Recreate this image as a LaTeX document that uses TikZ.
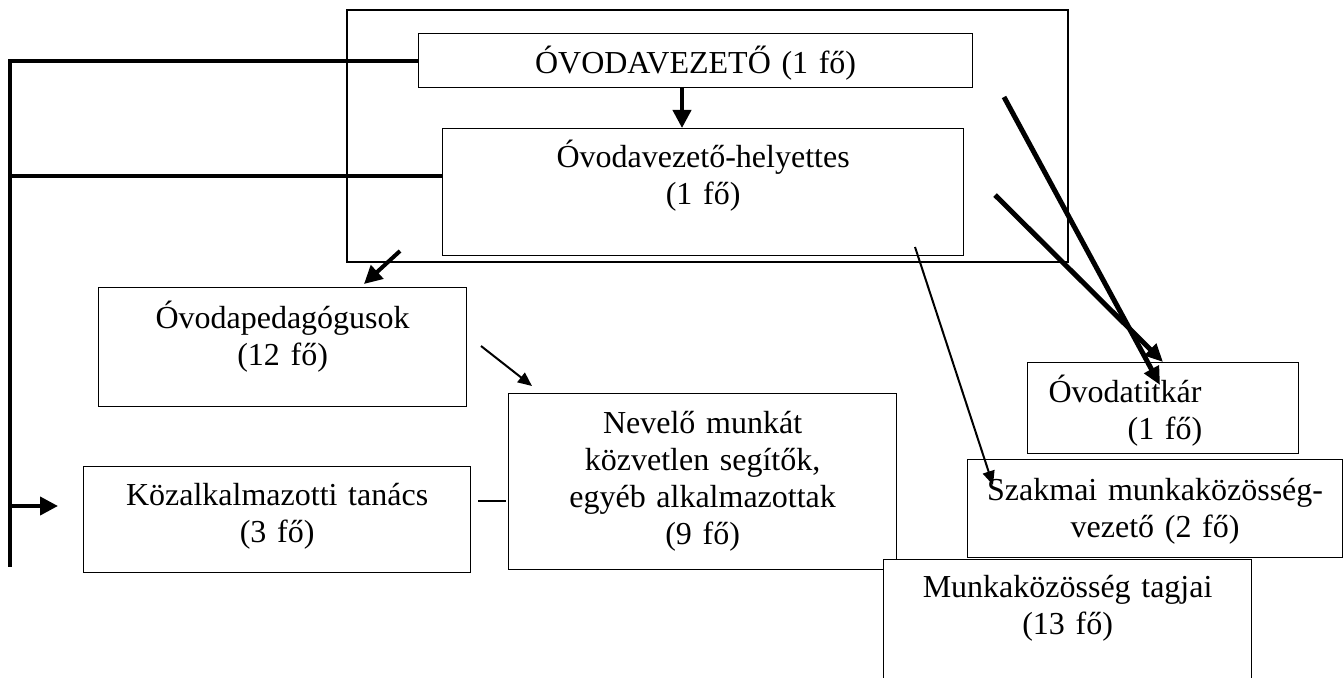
\documentclass[tikz,border=0pt]{standalone}
\usepackage{fontspec}
\setmainfont{Liberation Serif}
\usetikzlibrary{calc,arrows.meta}
\tikzset{
myBox/.style={
	draw, rectangle, fill=white, line width=0.6pt,
	inner sep=0pt, anchor=north west, align=center,
	font=\fontsize{16}{18.5}\selectfont
}
, myFrame/.style={
	draw, rectangle, line width=1pt,
	inner sep=0pt, anchor=north west
}
% link
, myBus/.style={line width=2pt}
, myLine/.style={line width=0.8pt}
, myThick/.style={-{Triangle[length=9pt,width=9pt]},line width=2pt}
, myThin/.style={-{Triangle[length=7pt,width=6pt]},line width=1pt}
, myTitkar/.style={-{Triangle[length=9pt,width=8pt]},line width=2.5pt}
}

\begin{document}
\begin{tikzpicture}[x=0.5pt,y=-0.5pt]
	\path[use as bounding box,clip] (0,0) rectangle (1343,678);
	% nodes
	\node[myFrame,minimum width=360.5pt,minimum height=126pt] (Vezetes) at (346,9) {};
	\node[myBox,text width=277pt,text height=20pt,text depth=7pt] (Vezeto) at (418,33) {ÓVODAVEZETŐ (1 fő)};
	\node[myBox,text width=260.5pt,text height=19.5pt,text depth=44pt] (Helyettes) at (442,128) {Óvodavezető-helyettes\\(1 fő)};
	\node[myBox,text width=184pt,text height=20.5pt,text depth=39pt] (Pedagogus) at (98,287) {Óvodapedagógusok\\(12 fő)};
	\node[myBox,text width=194pt,text height=20pt,text depth=68pt] (Nevelo) at (508,393) {Nevelő munkát\\közvetlen segítők,\\egyéb alkalmazottak\\(9 fő)};
	\node[myBox,text width=193.5pt,text height=19.5pt,text depth=33.5pt] (Kozalk) at (83,466) {Közalkalmazotti tanács\\(3 fő)};
	\node[myBox,align=left,text width=135.5pt,text height=20pt,text depth=25.5pt] (Titkar) at (1027,362) {\hspace*{10.5pt}Óvodatitkár\\\hspace*{50pt}(1 fő)};
	\node[myBox,text width=187.5pt,text height=20.5pt,text depth=28.5pt] (Szakmai) at (967,459) {Szakmai munkaközösség-\\vezető (2 fő)};
	\node[myBox,text width=184pt,text height=19pt,text depth=60pt] (Tagok) at (883,559) {Munkaközösség tagjai\\(13 fő)};

	% free ends
	\coordinate (Bus) at (10,567);
	\coordinate (KozIn) at (58,506);
	\coordinate (VezArr) at (682,87);
	\coordinate (PedFrom) at (400,251);
	\coordinate (PedTo) at (364,284);
	\coordinate (NevFrom) at (481,346);
	\coordinate (NevTo) at (532,386);
	\coordinate (SzakFrom) at (915,247);
	\coordinate (SzakTo) at (993,485);
	\coordinate (TitFromA) at (1004,97);
	\coordinate (TitToA) at (1160,385);
	\coordinate (TitFromB) at (995,195);
	\coordinate (TitToB) at (1163,362);

	% links
	\draw[myBus] (Vezeto.west) -| (Bus);
	\draw[myBus] ($(Helyettes.north west)+(0,48)$) -| (Bus);
	\draw[myThick] (Bus |- KozIn) -- (KozIn);
	\draw[myLine] ($(Kozalk.north east)+(7,35)$) -- ($(Nevelo.north west)+(-2,108)$);
	\draw[myThick] (VezArr) -- (VezArr |- Helyettes.north);
	\draw[myThick] (PedFrom) -- (PedTo);
	\draw[myThin] (NevFrom) -- (NevTo);
	\draw[myThin] (SzakFrom) -- (SzakTo);
	\draw[myTitkar] (TitFromA) -- (TitToA);
	\draw[myTitkar] (TitFromB) -- (TitToB);
\end{tikzpicture}
\end{document}
